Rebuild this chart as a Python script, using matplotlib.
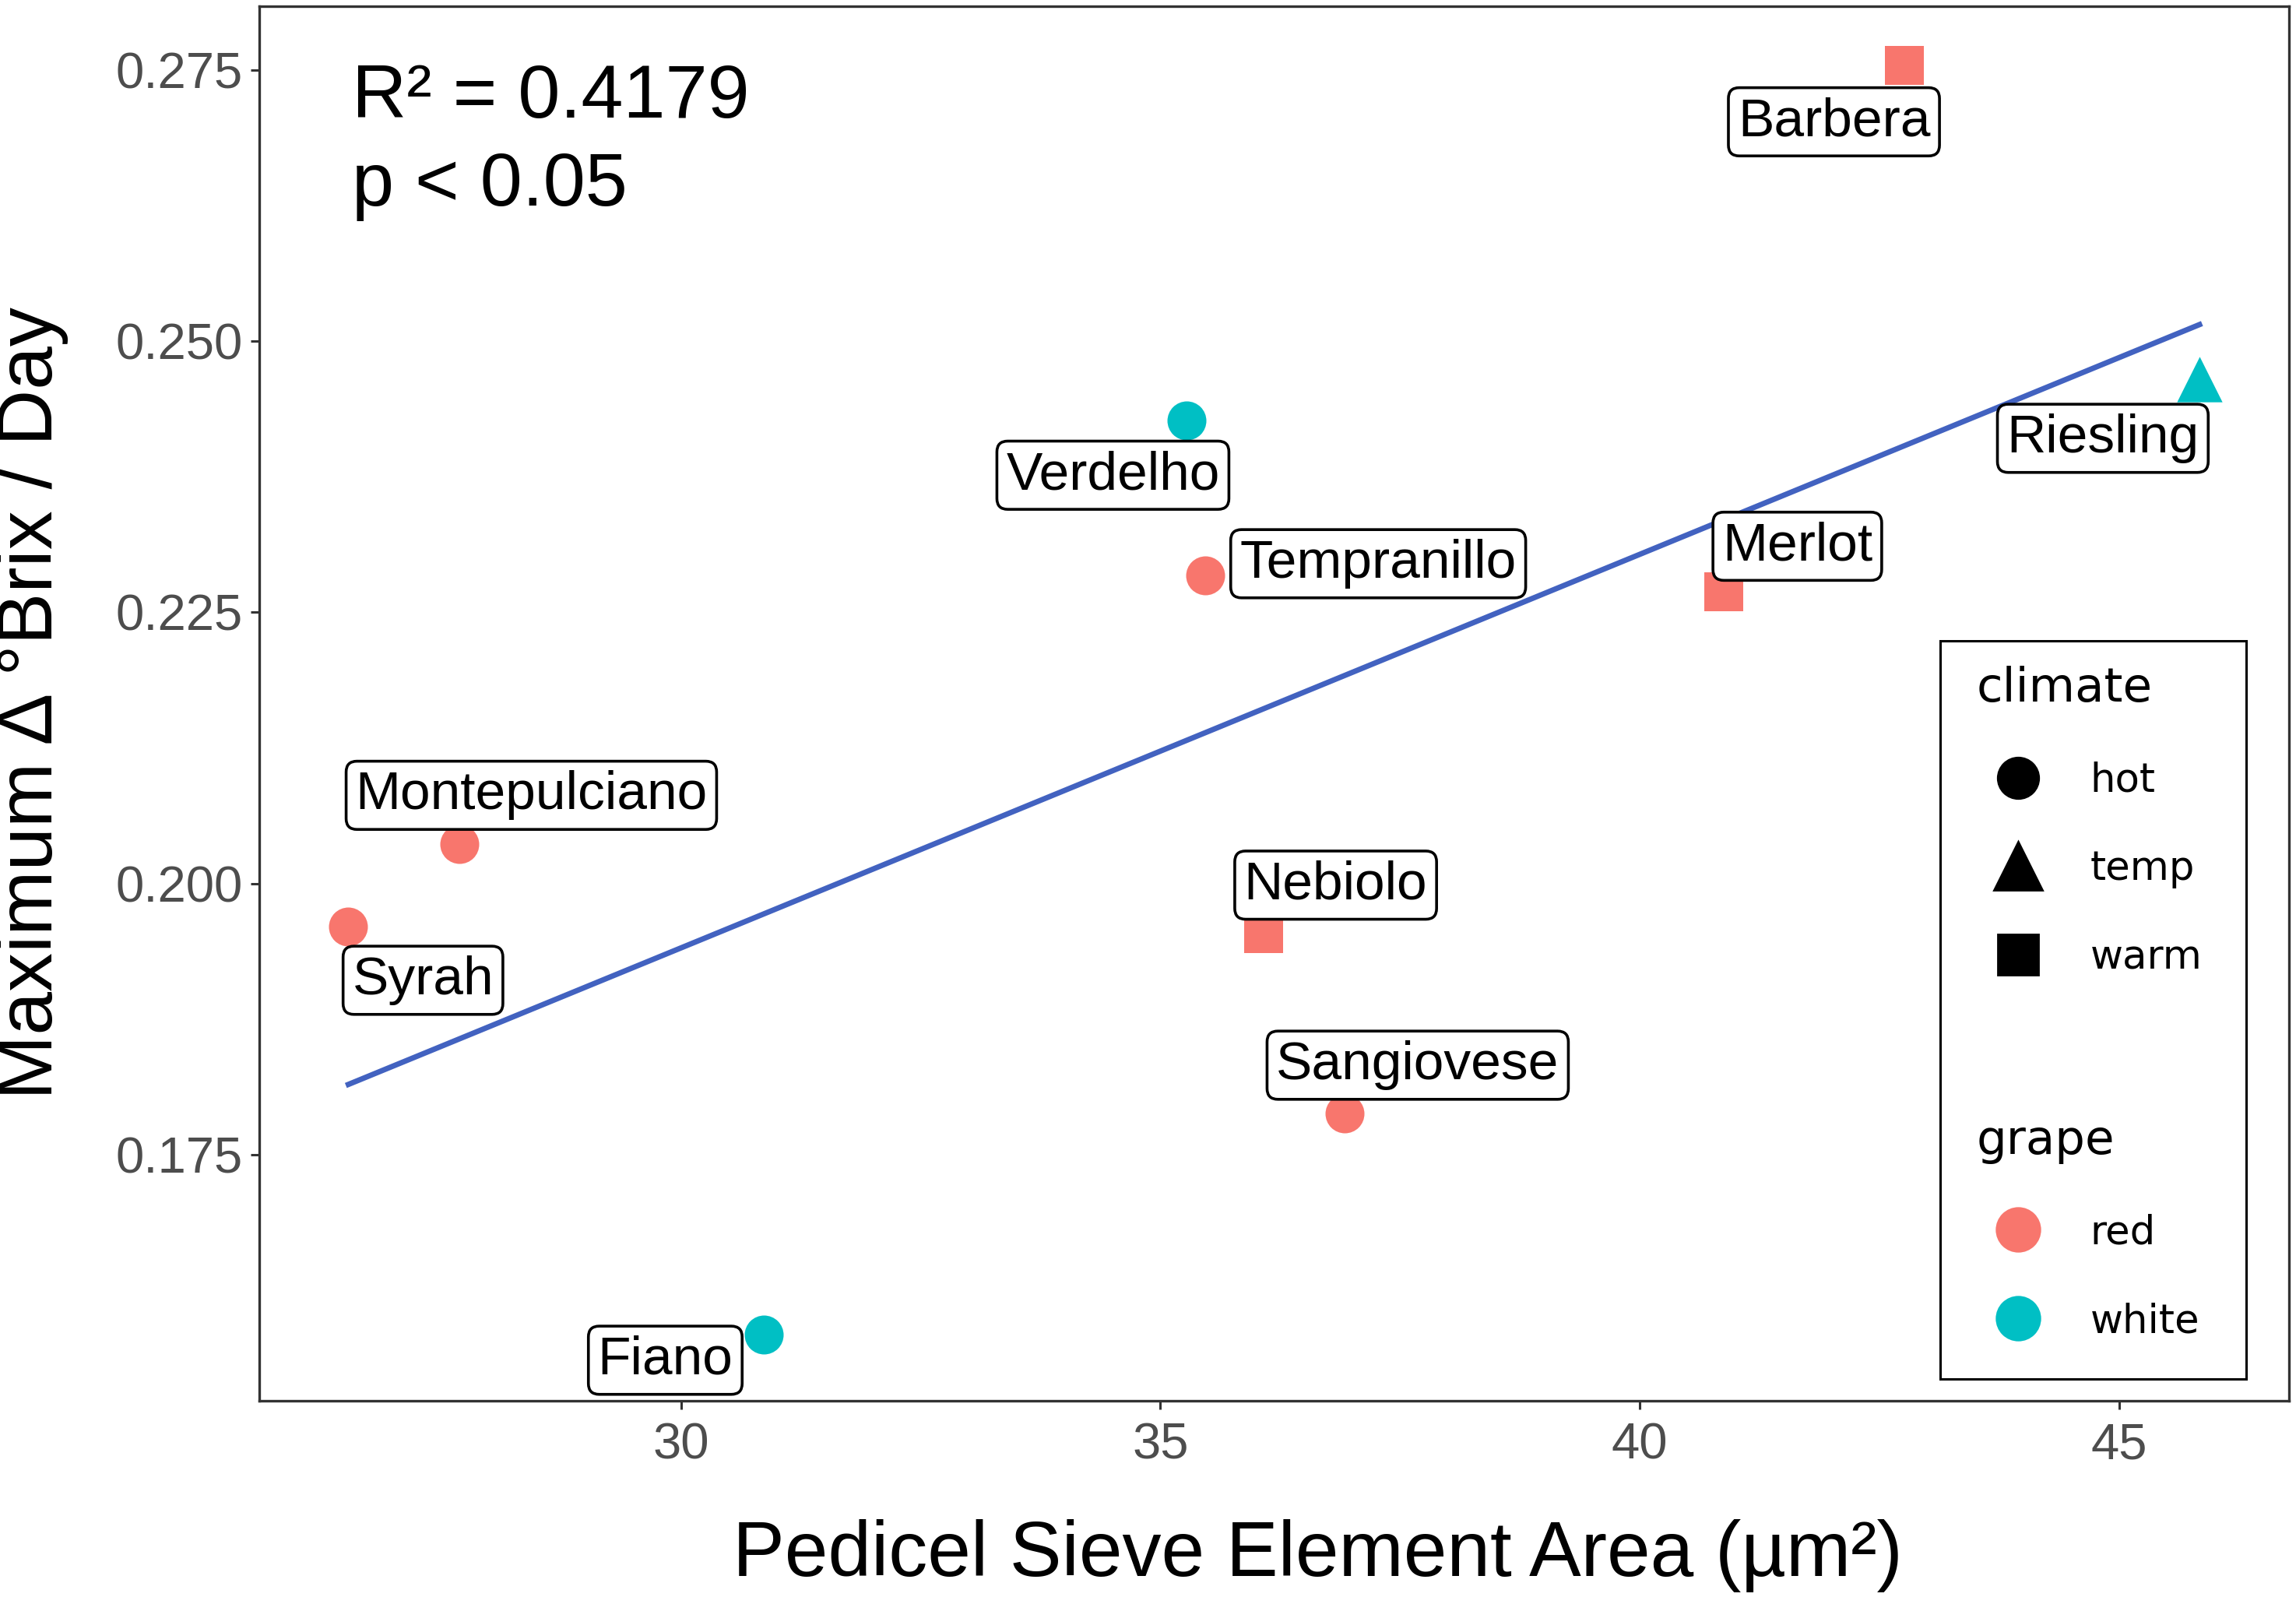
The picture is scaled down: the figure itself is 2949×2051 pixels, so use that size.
import numpy as np
import matplotlib
matplotlib.use('Agg')
from matplotlib import pyplot as plt
from matplotlib.lines import Line2D
from matplotlib.patches import Rectangle

plt.rcParams['font.family'] = ['Liberation Sans', 'DejaVu Sans']

# data
varieties = ['Barbera', 'Riesling', 'Verdelho', 'Tempranillo', 'Merlot',
             'Montepulciano', 'Syrah', 'Nebiolo', 'Sangiovese', 'Fiano']
sieve_area = [42.76, 45.84, 35.27, 35.47, 40.88, 27.69, 26.53, 36.08, 36.92, 30.86]
brix_rate = [0.2754, 0.2465, 0.2427, 0.2284, 0.2269, 0.2036, 0.1960, 0.1954, 0.1788, 0.1584]
climate = ['warm', 'temp', 'hot', 'hot', 'warm', 'hot', 'hot', 'warm', 'hot', 'hot']
grape = ['red', 'white', 'white', 'red', 'red', 'red', 'red', 'red', 'red', 'white']

climate_levels = ['hot', 'temp', 'warm']
grape_levels = ['red', 'white']

# label offsets from the point, in points
label_offsets = [(-32.5, -26), (-44.7, -27.4), (-33.9, -25.4), (79.9, 5.4), (33.9, 21),
                 (33.2, 22.7), (34.5, -24.7), (33.2, 22.3), (33.9, 22.3), (-45.4, -11.8)]

markers = {'hot': 'o', 'temp': '^', 'warm': 's'}
marker_sizes = {'hot': 18, 'temp': 21, 'warm': 18}
colors = {'red': '#F8766D', 'white': '#00BFC4'}

fig = plt.figure(figsize=(14.745, 10.255), dpi=200)
ax = fig.add_axes([0.1129, 0.1228, 0.8839, 0.8735])

x = np.array(sieve_area)
y = np.array(brix_rate)

for xi, yi, c, g in zip(x, y, climate, grape):
    ax.scatter(xi, yi, marker=markers[c], s=marker_sizes[c] ** 2,
               color=colors[g], linewidths=0, zorder=2)

# linear fit
slope, intercept = np.polyfit(x, y, 1)
xs = np.array([x.min(), x.max()])
ax.plot(xs, slope * xs + intercept, color='#4262C0', lw=2.5, zorder=3)

for name, xi, yi, off in zip(varieties, x, y, label_offsets):
    ax.annotate(name, (xi, yi), xytext=off, textcoords='offset points',
                ha='center', va='center', fontsize=25, color='black', zorder=5,
                bbox=dict(boxstyle='round,pad=0.17,rounding_size=0.2',
                          fc='white', ec='black', lw=1.3))

ax.set_xlim(25.60, 46.77)
ax.set_ylim(0.1523, 0.2809)
ax.set_xticks([30, 35, 40, 45])
ax.set_yticks([0.175, 0.200, 0.225, 0.250, 0.275])
ax.set_yticklabels(['0.175', '0.200', '0.225', '0.250', '0.275'])
ax.tick_params(axis='both', labelsize=23.5, labelcolor='#4D4D4D', color='#333333',
               length=4, width=1.1)
ax.tick_params(axis='x', pad=6)
for sp in ax.spines.values():
    sp.set_color('#333333')
    sp.set_linewidth(1.2)

ax.set_xlabel('Pedicel Sieve Element Area (µm²)', fontsize=36)
ax.xaxis.set_label_coords(0.5216, -0.085)
ax.set_ylabel('Maximum Δ °Brix / Day', fontsize=36)
ax.yaxis.set_label_coords(-0.0938, 0.5)

ax.text(0.0455, 0.920, 'R² = 0.4179', transform=ax.transAxes, fontsize=35, va='baseline')
ax.text(0.0455, 0.857, 'p < 0.05', transform=ax.transAxes, fontsize=35, va='baseline')

# legends
climate_handles = [Line2D([], [], ls='none', marker=markers[c], color='black',
                          markersize=marker_sizes[c] * 1.05) for c in climate_levels]
grape_handles = [Line2D([], [], ls='none', marker='o', color=colors[g],
                        markersize=20) for g in grape_levels]

leg_kw = dict(frameon=False, loc='upper left', borderpad=0, handlelength=2.1,
              handletextpad=0.75, labelspacing=1.24, alignment='left',
              prop={'family': 'DejaVu Sans', 'size': 18.5},
              title_fontproperties={'family': 'DejaVu Sans', 'size': 22})
leg1 = ax.legend(climate_handles, climate_levels, title='climate',
                 bbox_to_anchor=(0.8362, 0.5414), **leg_kw)
ax.add_artist(leg1)
leg2 = ax.legend(grape_handles, grape_levels, title='grape',
                 bbox_to_anchor=(0.8362, 0.2172), **leg_kw)

ax.add_patch(Rectangle((0.8283, 0.0157), 0.1507, 0.5289, transform=ax.transAxes,
                       fill=False, ec='black', lw=1.1, zorder=6, clip_on=False))

fig.savefig('out.png', dpi=200)
